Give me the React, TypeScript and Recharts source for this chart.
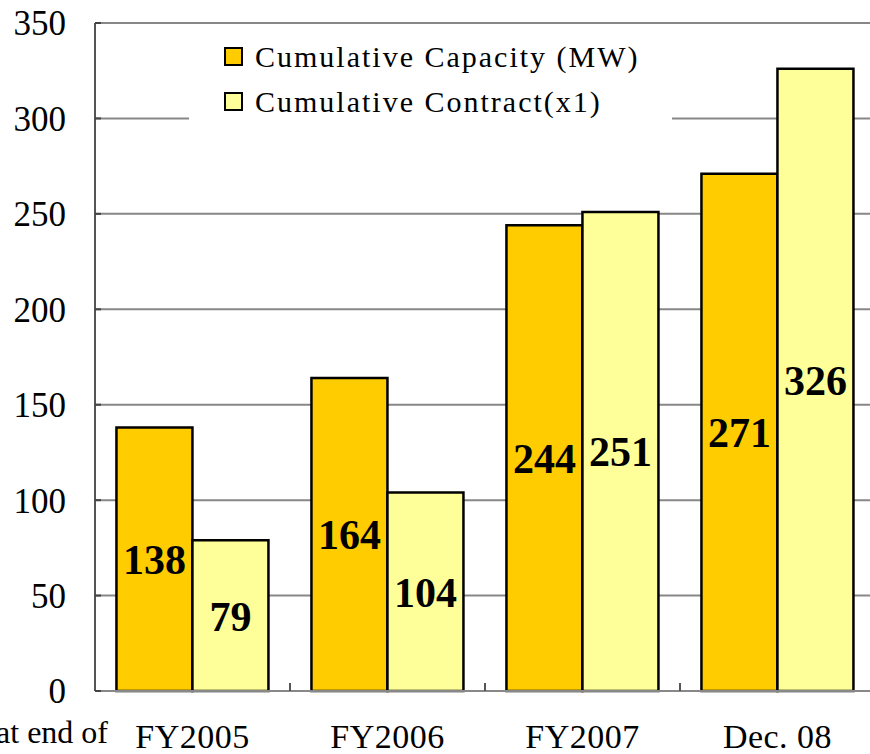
import { BarChart, Bar, XAxis, YAxis, CartesianGrid, Legend, LabelList } from "recharts";

const categories = ["FY2005", "FY2006", "FY2007", "Dec. 08"];
const capacity = [138, 164, 244, 271];
const contract = [79, 104, 251, 326];
const yTicks = [0, 50, 100, 150, 200, 250, 300, 350];

const seriesNames = ["Cumulative Capacity (MW)", "Cumulative Contract(x1)"];
const COLORS = ["#FFCC00", "#FFFF99"];
const FONT = "'Liberation Serif', 'Times New Roman', serif";
const X_MARGIN = 33;
const Y_MARGIN = 29;

const data = categories.map((name, i) => ({
  name,
  capacity: capacity[i],
  contract: contract[i],
}));

function LegendBox() {
  return (
    <div style={{ background: "#fff", width: 483, height: 100, fontFamily: FONT, paddingTop: 4, boxSizing: "border-box" }}>
      {seriesNames.map((s, i) => (
        <div key={s} style={{ display: "flex", alignItems: "center", height: 45 }}>
          <span
            style={{
              display: "inline-block",
              width: 15,
              height: 15,
              marginLeft: 35,
              marginRight: 12,
              background: COLORS[i],
              border: "2.5px solid #000",
            }}
          />
          <span style={{ fontSize: 30, letterSpacing: 2, color: "#000" }}>{s}</span>
        </div>
      ))}
    </div>
  );
}

// category label plus a small upward tick at the boundary to its right
function XTick(props: any) {
  const { x, y, payload, index } = props;
  const axisY = y - X_MARGIN;
  const half = payload?.offset ?? 0;
  return (
    <g>
      {index < categories.length - 1 && half > 0 && (
        <line x1={x + half} x2={x + half} y1={axisY} y2={axisY - 8} stroke="#555" strokeWidth={2} />
      )}
      <text x={x} y={y} dy="0.71em" textAnchor="middle" fill="#000" fontSize={34} fontFamily={FONT} letterSpacing={0.5}>
        {payload.value}
      </text>
    </g>
  );
}

function YTick(props: any) {
  const { x, y, payload } = props;
  const axisX = x + Y_MARGIN;
  return (
    <g>
      <line x1={axisX} x2={axisX + 6} y1={y} y2={y} stroke="#444" strokeWidth={2} />
      <text x={x} y={y} dy="0.355em" textAnchor="end" fill="#000" fontSize={35} fontFamily={FONT}>
        {payload.value}
      </text>
    </g>
  );
}

export default function App() {
  return (
    <div style={{ position: "absolute", left: 0, top: 0, width: 870, height: 754, overflow: "hidden", background: "#fff" }}>
      <BarChart
        width={880}
        height={754}
        data={data}
        margin={{ top: 23, right: 5, bottom: 0, left: 0 }}
        barCategoryGap="11%"
        barGap={0}
      >
        <CartesianGrid vertical={false} stroke="#878787" strokeWidth={2} />
        <XAxis
          dataKey="name"
          height={63}
          tickLine={false}
          tickSize={0}
          tickMargin={X_MARGIN}
          axisLine={{ stroke: "#888", strokeWidth: 2 }}
          tick={<XTick />}
        />
        <YAxis
          width={95}
          domain={[0, 350]}
          ticks={yTicks}
          interval={0}
          tickLine={false}
          tickSize={0}
          tickMargin={Y_MARGIN}
          axisLine={{ stroke: "#555", strokeWidth: 2 }}
          tick={<YTick />}
        />
        <Legend
          verticalAlign="middle"
          align="center"
          content={<LegendBox />}
          wrapperStyle={{ position: "absolute", left: 189, top: 30, width: 483, height: 100 }}
        />
        <Bar dataKey="capacity" name={seriesNames[0]} fill={COLORS[0]} stroke="#000" strokeWidth={2.5} isAnimationActive={false}>
          <LabelList dataKey="capacity" position="center" fill="#000" fontSize={42} fontWeight="bold" fontFamily={FONT} />
        </Bar>
        <Bar dataKey="contract" name={seriesNames[1]} fill={COLORS[1]} stroke="#000" strokeWidth={2.5} isAnimationActive={false}>
          <LabelList dataKey="contract" position="center" fill="#000" fontSize={42} fontWeight="bold" fontFamily={FONT} />
        </Bar>
      </BarChart>
      <div
        style={{
          position: "absolute",
          right: 762,
          top: 714,
          whiteSpace: "nowrap",
          fontFamily: FONT,
          fontSize: 32,
          lineHeight: "36px",
          color: "#000",
        }}
      >
        at end of
      </div>
    </div>
  );
}
